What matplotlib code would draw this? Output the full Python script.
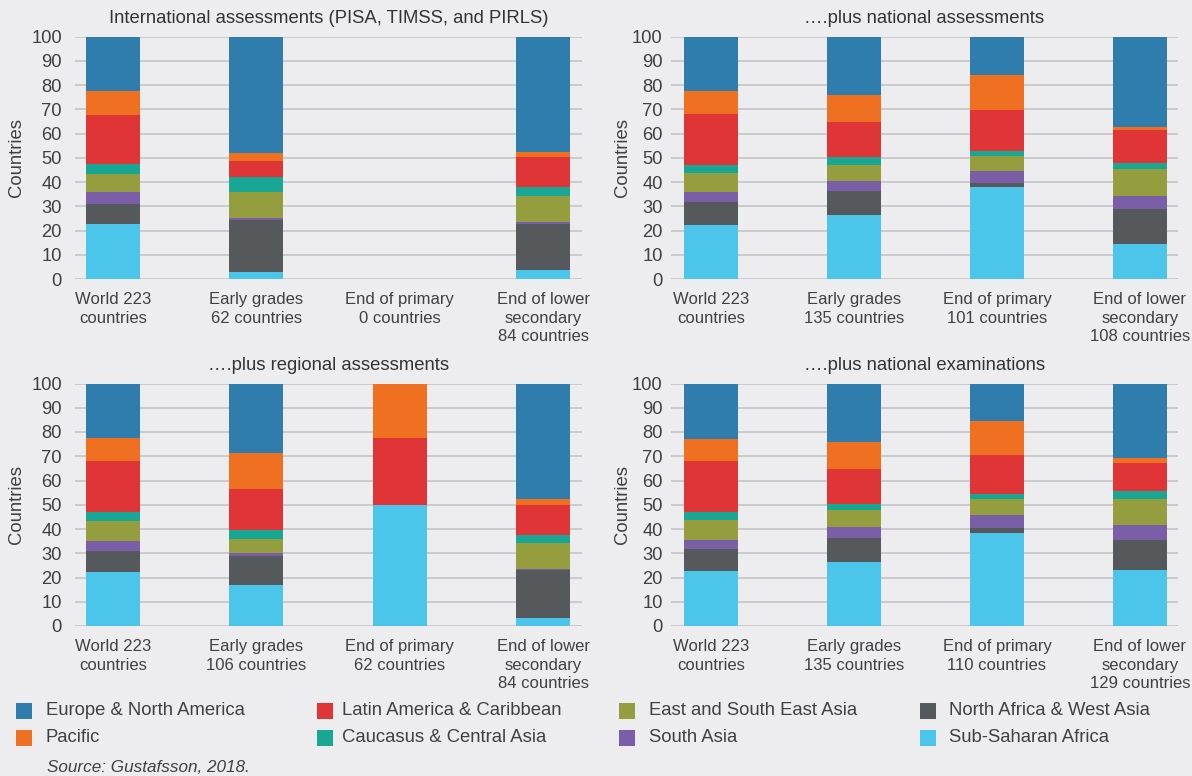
import matplotlib
matplotlib.use("Agg")
import matplotlib.pyplot as plt
from matplotlib.patches import Rectangle

plt.rcParams['font.family'] = ['Liberation Sans', 'DejaVu Sans']

# ---- data ----
regions = ["Sub-Saharan Africa", "North Africa & West Asia", "South Asia",
           "East and South East Asia", "Caucasus & Central Asia",
           "Latin America & Caribbean", "Pacific", "Europe & North America"]
colors = ["#4BC6EA", "#55595B", "#7A5FA8", "#949E3E", "#19A795",
          "#DF3536", "#F07022", "#2E7DAD"]

titles = ["International assessments (PISA, TIMSS, and PIRLS)",
          "\u2026.plus national assessments",
          "\u2026.plus regional assessments",
          "\u2026.plus national examinations"]

labels_intl = ["World 223\ncountries", "Early grades\n62 countries",
               "End of primary\n0 countries", "End of lower\nsecondary\n84 countries"]
labels_nat = ["World 223\ncountries", "Early grades\n135 countries",
              "End of primary\n101 countries", "End of lower\nsecondary\n108 countries"]
labels_reg = ["World 223\ncountries", "Early grades\n106 countries",
              "End of primary\n62 countries", "End of lower\nsecondary\n84 countries"]
labels_exam = ["World 223\ncountries", "Early grades\n135 countries",
               "End of primary\n110 countries", "End of lower\nsecondary\n129 countries"]

# shares (%) per region, order: World, Early grades, End of primary, End of lower secondary
intl = {
    "Sub-Saharan Africa":        [22.6, 2.8, 0, 3.6],
    "North Africa & West Asia":  [8.3, 21.4, 0, 19.0],
    "South Asia":                [4.9, 1.1, 0, 0.8],
    "East and South East Asia":  [7.6, 10.5, 0, 10.8],
    "Caucasus & Central Asia":   [4.1, 6.2, 0, 3.7],
    "Latin America & Caribbean": [20.1, 6.6, 0, 12.4],
    "Pacific":                   [10.1, 3.3, 0, 2.0],
    "Europe & North America":    [22.3, 48.1, 0, 47.7],
}
national = {
    "Sub-Saharan Africa":        [22.2, 26.3, 37.9, 14.3],
    "North Africa & West Asia":  [9.5, 9.9, 1.6, 14.5],
    "South Asia":                [4.1, 4.2, 5.0, 5.4],
    "East and South East Asia":  [7.9, 6.6, 6.2, 11.1],
    "Caucasus & Central Asia":   [3.3, 3.3, 2.1, 2.5],
    "Latin America & Caribbean": [21.0, 14.4, 16.9, 13.6],
    "Pacific":                   [9.7, 11.2, 14.5, 1.3],
    "Europe & North America":    [22.3, 24.1, 15.8, 37.3],
}
regional = {
    "Sub-Saharan Africa":        [22.3, 16.9, 50.0, 3.3],
    "North Africa & West Asia":  [8.7, 12.0, 0, 19.8],
    "South Asia":                [4.1, 1.3, 0, 0.5],
    "East and South East Asia":  [8.3, 5.8, 0, 10.7],
    "Caucasus & Central Asia":   [3.7, 3.7, 0, 3.3],
    "Latin America & Caribbean": [21.1, 16.9, 27.7, 12.4],
    "Pacific":                   [9.5, 14.9, 22.3, 2.5],
    "Europe & North America":    [22.3, 28.5, 0, 47.5],
}
exams = {
    "Sub-Saharan Africa":        [22.7, 26.4, 38.4, 23.1],
    "North Africa & West Asia":  [9.1, 10.0, 2.1, 12.4],
    "South Asia":                [3.7, 4.5, 5.4, 6.2],
    "East and South East Asia":  [8.3, 7.0, 6.6, 10.8],
    "Caucasus & Central Asia":   [3.3, 2.5, 2.0, 3.3],
    "Latin America & Caribbean": [21.1, 14.5, 16.2, 11.6],
    "Pacific":                   [9.1, 11.1, 14.0, 2.0],
    "Europe & North America":    [22.3, 24.0, 14.9, 30.6],
}

panels = [(intl, labels_intl), (national, labels_nat),
          (regional, labels_reg), (exams, labels_exam)]

# ---- figure ----
W, H = 1192, 776
BG = "#EDEDEF"
TXT = "#404040"
fig = plt.figure(figsize=(W / 100, H / 100), dpi=100, facecolor=BG)

# axes boxes in pixels: left, right, top(=100), bottom(=0)
boxes = [(75, 582, 36.7, 279), (671, 1178, 36.7, 279),
         (75, 582, 383.5, 626), (671, 1178, 383.5, 626)]
xlims = [(-0.265, 3.272), (-0.281, 3.267), (-0.265, 3.272), (-0.281, 3.267)]
ytick_pads = [9.5, 6.0, 9.5, 6.0]        # points
ylabel_x = [16, 623, 16, 623]            # pixel centre of "Countries"

for i, ((data, labels), (l, r, t, b), xl) in enumerate(zip(panels, boxes, xlims)):
    ax = fig.add_axes([l / W, 1 - b / H, (r - l) / W, (b - t) / H])
    ax.set_facecolor(BG)
    x = list(range(len(labels)))
    bottom = [0.0] * len(labels)
    for reg, col in zip(regions, colors):
        vals = data[reg]
        ax.bar(x, vals, width=0.377, bottom=bottom, color=col, zorder=3,
               linewidth=0, clip_on=False)
        bottom = [bb + v for bb, v in zip(bottom, vals)]
    ax.set_ylim(0, 100)
    ax.set_xlim(*xl)
    ax.set_yticks(range(0, 101, 10))
    ax.yaxis.grid(True, color="#C8C8CA", linewidth=1.3, zorder=0)
    ax.set_axisbelow(True)
    for s in ax.spines.values():
        s.set_visible(False)
    ax.tick_params(length=0, colors=TXT)
    ax.tick_params(axis='y', pad=ytick_pads[i], labelsize=13.2)
    ax.tick_params(axis='x', pad=9.5, labelsize=12)
    ax.set_xticks(x)
    ax.set_xticklabels(labels, linespacing=1.28, va='top')
    ax.text((ylabel_x[i] - l) / (r - l), 0.5, "Countries", transform=ax.transAxes,
            rotation=90, ha='center', va='center', fontsize=13.3, color=TXT)
    ax.set_title(titles[i], fontsize=13.3, color="#333333", pad=10)

# ---- legend ----
legend_cols = [
    (16, 45.7, ["Europe & North America", "Pacific"]),
    (317, 342, ["Latin America & Caribbean", "Caucasus & Central Asia"]),
    (619, 649, ["East and South East Asia", "South Asia"]),
    (920, 949, ["North Africa & West Asia", "Sub-Saharan Africa"]),
]
rows_y = [710.5, 737.5]
for mx, tx, names in legend_cols:
    for name, ypx in zip(names, rows_y):
        col = colors[regions.index(name)]
        fig.add_artist(Rectangle((mx / W, 1 - (ypx + 8) / H), 16 / W, 16 / H,
                                 transform=fig.transFigure, facecolor=col,
                                 edgecolor='none'))
        fig.text(tx / W, 1 - ypx / H, name, fontsize=13.3, color=TXT,
                 va='center', ha='left')

fig.text(46.7 / W, 1 - 767 / H, "Source: Gustafsson, 2018.", fontsize=12.3,
         color=TXT, style='italic', va='center', ha='left')

fig.savefig("out.png", dpi=100, facecolor=BG)
